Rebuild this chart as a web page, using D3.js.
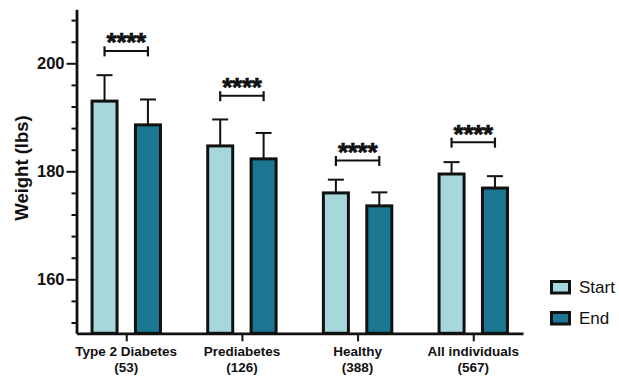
<!DOCTYPE html>
<html>
<head>
<meta charset="utf-8">
<script src="https://cdn.jsdelivr.net/npm/d3@7"></script>
<style>
  html, body { margin: 0; padding: 0; background: #fff; }
  svg { display: block; font-family: "Liberation Sans", Arial, sans-serif; }
</style>
</head>
<body>
<svg id="chart" width="619" height="376"></svg>
<script>
// Group names and sample sizes
const categories = ["Type 2 Diabetes", "Prediabetes", "Healthy", "All individuals"];
const groupN = [53, 126, 388, 567];

// Mean weight (lbs) at start and end, with error bar extents
const startMean = [193.0, 184.7, 176.0, 179.5];
const startErr = [4.8, 4.9, 2.45, 2.2];
const endMean = [188.6, 182.3, 173.6, 176.9];
const endErr = [4.7, 4.8, 2.5, 2.2];

// Height (lbs) of each significance bracket and its label
const bracketLevel = [202.3, 194.0, 182.0, 185.4];
const bracketLabel = ["****", "****", "****", "****"];

// Axis ticks
const majorTicks = [160, 180, 200];
const minorTicks = [152, 156, 164, 168, 172, 176, 184, 188, 192, 196, 204, 208];

const series = ["Start", "End"];
const colors = { Start: "#a6d8db", End: "#1b7792" };

const svg = d3.select("#chart");

const y = d3.scaleLinear().domain([150, 210]).range([333.3, 9.3]);
const x = d3.scalePoint().domain(categories).range([76.5, 523]).padding(0.43);
const xSub = d3.scalePoint().domain(series).range([-21.7, 21.7]);

const rows = categories.map((c, i) => ({
  cat: c,
  n: groupN[i],
  bracket: bracketLevel[i],
  label: bracketLabel[i],
  values: [
    { key: "Start", mean: startMean[i], err: startErr[i] },
    { key: "End", mean: endMean[i], err: endErr[i] }
  ]
}));

const barW = 25;
const capW = 16;

// Bars with error bars
const groups = svg.append("g").selectAll("g.grp")
  .data(rows).join("g")
  .attr("class", "grp")
  .attr("transform", d => `translate(${x(d.cat)},0)`);

const bars = groups.selectAll("g.bar")
  .data(d => d.values).join("g")
  .attr("class", "bar");

bars.append("line")
  .attr("x1", d => xSub(d.key)).attr("x2", d => xSub(d.key))
  .attr("y1", d => y(d.mean)).attr("y2", d => y(d.mean + d.err))
  .attr("stroke", "#111").attr("stroke-width", 2);

bars.append("line")
  .attr("x1", d => xSub(d.key) - capW / 2).attr("x2", d => xSub(d.key) + capW / 2)
  .attr("y1", d => y(d.mean + d.err)).attr("y2", d => y(d.mean + d.err))
  .attr("stroke", "#111").attr("stroke-width", 2);

bars.append("rect")
  .attr("x", d => xSub(d.key) - barW / 2)
  .attr("width", barW)
  .attr("y", d => y(d.mean))
  .attr("height", d => y(150) - y(d.mean))
  .attr("fill", d => colors[d.key])
  .attr("stroke", "#111")
  .attr("stroke-width", 3);

// Significance brackets
const br = groups.append("g").attr("class", "bracket");
br.append("line")
  .attr("x1", xSub("Start")).attr("x2", xSub("End"))
  .attr("y1", d => y(d.bracket)).attr("y2", d => y(d.bracket))
  .attr("stroke", "#111").attr("stroke-width", 2);
series.forEach(s => {
  br.append("line")
    .attr("x1", xSub(s)).attr("x2", xSub(s))
    .attr("y1", d => y(d.bracket) - 4.5).attr("y2", d => y(d.bracket) + 5.5)
    .attr("stroke", "#111").attr("stroke-width", 2.2);
});
br.append("text")
  .attr("x", 0)
  .attr("y", d => y(d.bracket) + 0.5)
  .attr("text-anchor", "middle")
  .attr("font-size", 26)
  .attr("font-weight", "bold")
  .attr("letter-spacing", -0.3)
  .attr("fill", "#111")
  .attr("stroke", "#111")
  .attr("stroke-width", 0.7)
  .text(d => d.label);

// Y axis: major ticks with labels, minor ticks without
const yAxis = svg.append("g")
  .attr("transform", "translate(76.5,0)")
  .call(d3.axisLeft(y).tickValues(majorTicks).tickSize(10).tickSizeOuter(0).tickPadding(2));
yAxis.selectAll("text")
  .attr("font-size", 16.5).attr("font-weight", "bold")
  .attr("font-family", "Liberation Sans, Arial, sans-serif")
  .attr("fill", "#111");

const yMinor = svg.append("g")
  .attr("transform", "translate(76.5,0)")
  .call(d3.axisLeft(y).tickValues(minorTicks).tickSize(5).tickSizeOuter(0).tickFormat(""));
yMinor.select(".domain").remove();

[yAxis, yMinor].forEach(g => {
  g.selectAll("line").attr("stroke", "#111").attr("stroke-width", 2);
  g.selectAll(".domain").attr("stroke", "#111").attr("stroke-width", 2.8);
});

// X axis with two-line category labels
const xAxis = svg.append("g")
  .attr("transform", `translate(0,${y(150)})`)
  .call(d3.axisBottom(x).tickSize(8).tickSizeOuter(0).tickFormat(""));
xAxis.selectAll("line").attr("stroke", "#111").attr("stroke-width", 2);
xAxis.select(".domain").attr("stroke", "#111").attr("stroke-width", 2.8);

const xLabels = svg.append("g").selectAll("text")
  .data(rows).join("text")
  .attr("text-anchor", "middle")
  .attr("font-size", 13.5)
  .attr("font-weight", "bold")
  .attr("fill", "#111");
xLabels.append("tspan").attr("x", d => x(d.cat)).attr("y", 356).text(d => d.cat);
xLabels.append("tspan").attr("x", d => x(d.cat)).attr("y", 372).text(d => `(${d.n})`);

// Y axis title
svg.append("text")
  .attr("transform", "translate(28,168) rotate(-90)")
  .attr("text-anchor", "middle")
  .attr("font-size", 18.5)
  .attr("font-weight", "bold")
  .attr("fill", "#111")
  .text("Weight (lbs)");

// Legend
const legend = svg.append("g").selectAll("g")
  .data(series).join("g")
  .attr("transform", (d, i) => `translate(551.5,${281.5 + i * 31})`);
legend.append("rect")
  .attr("width", 18).attr("height", 11.5)
  .attr("fill", d => colors[d])
  .attr("stroke", "#111").attr("stroke-width", 3);
legend.append("text")
  .attr("x", 27.5).attr("y", 11)
  .attr("font-size", 17)
  .attr("fill", "#111")
  .text(d => d);
</script>
</body>
</html>
